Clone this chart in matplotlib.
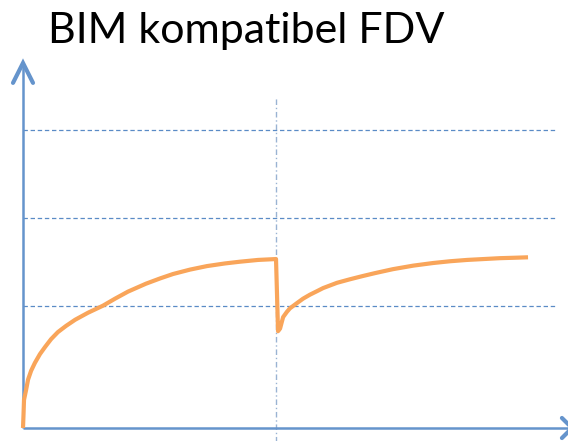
import matplotlib
matplotlib.use("Agg")
import matplotlib.pyplot as plt

# ---- data (arbitrary units) ----
title = "BIM kompatibel FDV"
seg1_x = [0.0, 0.02, 0.04, 0.12, 0.20, 0.32, 0.47, 0.67, 0.87, 1.11, 1.38, 1.70, 2.06, 2.57,
          3.16, 3.64, 4.15, 4.86, 5.42, 5.93, 6.60, 7.27, 7.98, 8.58, 9.29, 10.0]
seg1_y = [0.0, 0.15, 0.32, 0.43, 0.55, 0.65, 0.74, 0.84, 0.92, 1.01, 1.09, 1.16, 1.23, 1.31,
          1.39, 1.47, 1.55, 1.64, 1.70, 1.75, 1.80, 1.84, 1.87, 1.89, 1.91, 1.92]
drop_x = [10.0, 10.08]
drop_y = [1.92, 1.10]
seg2_x = [10.08, 10.16, 10.28, 10.43, 10.55, 10.83, 11.07, 11.34, 11.62, 11.86, 12.41, 12.92,
          13.40, 13.91, 14.62, 15.42, 16.21, 16.88, 17.55, 18.85, 19.45, 19.96]
seg2_y = [1.10, 1.13, 1.26, 1.32, 1.36, 1.42, 1.47, 1.515, 1.555, 1.59, 1.65, 1.69,
          1.725, 1.76, 1.805, 1.845, 1.875, 1.895, 1.91, 1.93, 1.935, 1.94]
grid_y = [1.39, 2.39, 3.39]
grid_xmax = 21.03
vline_x = 10.0
vline_top = 3.76

XMAX, YMAX = 21.54, 4.148
W, H = 568, 441

fig = plt.figure(figsize=(W / 100, H / 100), dpi=100)
ax = fig.add_axes([23 / W, 13 / H, 545 / W, 365 / H])
ax.set_xlim(0, XMAX)
ax.set_ylim(0, YMAX)
ax.axis("off")

axis_col = "#6594CC"
grid_col = "#5A8BC6"
orange = "#F9A55A"

# gridlines
for gy in grid_y:
    ax.plot([0, grid_xmax], [gy, gy], color=grid_col, lw=0.9, dashes=(3.5, 2.2), clip_on=False)

# vertical dash-dot line
ax.plot([vline_x, vline_x], [-0.2, vline_top], color="#9AB3D3", lw=1.0,
        dashes=(4, 2, 1, 2), clip_on=False)

# axes lines
ax.plot([0, 0], [0, YMAX], color=axis_col, lw=1.8, clip_on=False, solid_capstyle="butt")
ax.plot([0, XMAX + 0.2], [0, 0], color=axis_col, lw=1.8, clip_on=False, solid_capstyle="butt")
# arrow heads
ax.plot([-0.395, 0, 0.395], [YMAX - 0.226, YMAX, YMAX - 0.226], color=axis_col, lw=3.0,
        clip_on=False, solid_capstyle="round", solid_joinstyle="miter")
ax.plot([XMAX - 0.24, XMAX + 0.16, XMAX - 0.24], [0.114, 0, -0.114], color=axis_col, lw=3.0,
        clip_on=False, solid_capstyle="round", solid_joinstyle="miter")

# curve
curve_x = seg1_x + drop_x[1:] + seg2_x[1:]
curve_y = seg1_y + drop_y[1:] + seg2_y[1:]
ax.plot(curve_x, curve_y, color=orange, lw=3.0, clip_on=False,
        solid_capstyle="butt", solid_joinstyle="round")

fig.text(48 / W, 1 - 43 / H, title, fontsize=31, family=["Lato", "DejaVu Sans"],
         ha="left", va="baseline", color="black")

fig.savefig("out.png", dpi=100)
